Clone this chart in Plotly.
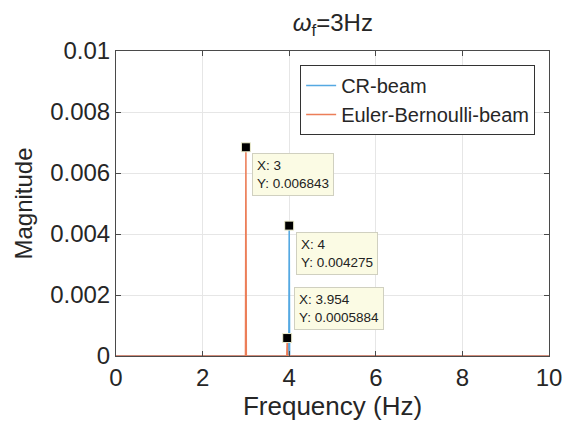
import plotly.graph_objects as go

# Data
freq_cr = [0, 3.99, 4.0, 4.01, 10]
mag_cr = [0, 0, 0.004275, 0, 0]
freq_eb = [0, 2.99, 3.0, 3.01, 3.944, 3.954, 3.964, 10]
mag_eb = [0, 0, 0.006843, 0, 0, 0.0005884, 0, 0]

tip_x = [3, 4, 3.954]
tip_y = [0.006843, 0.004275, 0.0005884]
tip_text = ["X: 3<br>Y: 0.006843", "X: 4<br>Y: 0.004275", "X: 3.954<br>Y: 0.0005884"]

xtick_vals = [0, 2, 4, 6, 8, 10]
ytick_vals = [0, 0.002, 0.004, 0.006, 0.008, 0.01]
ytick_text = ["0", "0.002", "0.004", "0.006", "0.008", "0.01"]

blue = "#55a9e2"
orange = "#ec7e58"
font = "Liberation Sans, Arial, sans-serif"
txt = "#262626"

fig = go.Figure()
fig.add_trace(go.Scatter(x=freq_cr, y=mag_cr, mode="lines", name="CR-beam",
                         line=dict(color=blue, width=1.5)))
fig.add_trace(go.Scatter(x=freq_eb, y=mag_eb, mode="lines", name="Euler-Bernoulli-beam",
                         line=dict(color=orange, width=1.5)))
fig.add_trace(go.Scatter(x=tip_x, y=tip_y, mode="markers", showlegend=False,
                         marker=dict(symbol="square", size=9, color="black",
                                     line=dict(color="#f0f0d0", width=1))))

# datatip boxes: (xshift, yshift, yanchor)
offsets = [(6, -6, "top"), (7, -6, "top"), (7, 8, "bottom")]
for (x, y, t), (dx, dy, ya) in zip(zip(tip_x, tip_y, tip_text), offsets):
    fig.add_annotation(x=x, y=y, xref="x", yref="y", text=t, showarrow=False,
                       xanchor="left", yanchor=ya, xshift=dx, yshift=dy, align="left",
                       bgcolor="#fbfbe4", bordercolor="#d0d0c0", borderwidth=1, borderpad=4,
                       font=dict(family=font, size=13.5, color="#222222"))

axis_common = dict(showline=True, linecolor="#4a4a4a", linewidth=1, mirror="ticks",
                   ticks="inside", ticklen=5, tickcolor="#4a4a4a",
                   showgrid=True, gridcolor="#e6e6e6", gridwidth=1, zeroline=False,
                   tickfont=dict(family=font, size=24, color=txt))

fig.update_layout(
    width=566, height=418,
    margin=dict(l=108, r=22, t=43, b=70),
    paper_bgcolor="white", plot_bgcolor="white",
    title=dict(text="<i>ω</i><sub>f</sub>=3Hz", x=0.574, xanchor="center", y=0.966, yanchor="middle",
               font=dict(family=font, size=24, color=txt)),
    xaxis=dict(range=[0, 10], tickvals=xtick_vals,
               title=dict(text="Frequency (Hz)", font=dict(family=font, size=26, color=txt),
                          standoff=4),
               **axis_common),
    yaxis=dict(range=[0, 0.01], tickvals=ytick_vals, ticktext=ytick_text,
               title=dict(text="Magnitude", font=dict(family=font, size=24, color=txt),
                          standoff=10),
               **axis_common),
    legend=dict(x=0.968, xanchor="right", y=0.954, yanchor="top",
                bgcolor="white", bordercolor="#333333", borderwidth=1,
                font=dict(family=font, size=20, color=txt),
                tracegroupgap=0, itemwidth=30),
    showlegend=True,
)

fig.write_html("out.html")
